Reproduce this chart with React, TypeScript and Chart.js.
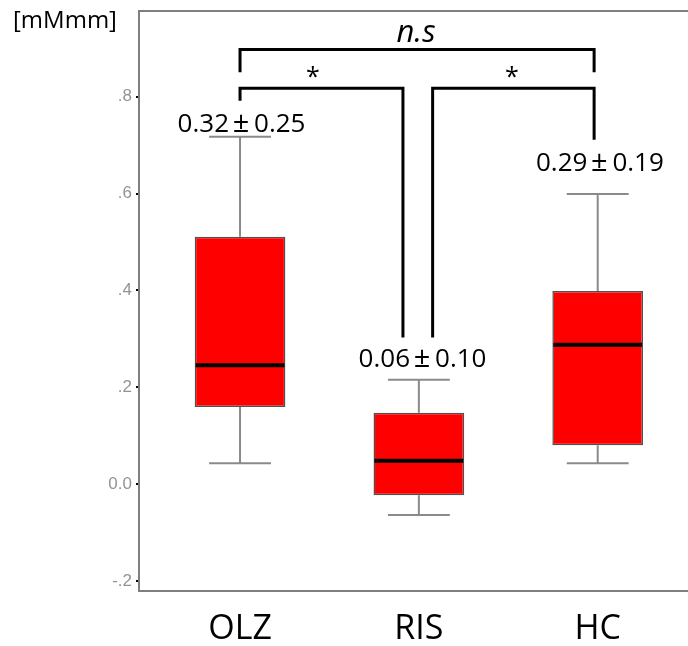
import { useEffect, useRef } from 'react';
import { Chart, registerables } from 'chart.js';

Chart.register(...registerables);

// ---- data ----
const categories = ['OLZ', 'RIS', 'HC'];
const categoryX = [1, 2, 3];
const whiskerLow = [0.044, -0.063, 0.044];
const q1 = [0.16, -0.022, 0.081];
const median = [0.246, 0.049, 0.288];
const q3 = [0.511, 0.148, 0.399];
const whiskerHigh = [0.717, 0.216, 0.599];
const means = ['0.32', '0.06', '0.29'];
const sds = ['0.25', '0.10', '0.19'];
const yTickValues = [0.8, 0.6, 0.4, 0.2, 0, -0.2];
const yTickLabels = ['.8', '.6', '.4', '.2', '0.0', '-.2'];
const unitLabel = '[mMmm]';

// annotation anchors in data units
const statX = [1.0, 2.012, 3.004];
const statY = [0.746, 0.261, 0.664];
const brackets = [
  { x1: 1.0, x2: 2.98, yTop: 0.897, yEnd1: 0.85, yEnd2: 0.85, label: 'n.s', labelX: 1.984, labelY: 0.929, italic: true },
  { x1: 1.0, x2: 1.911, yTop: 0.817, yEnd1: 0.791, yEnd2: 0.303, label: '*', labelX: 1.408, labelY: 0.85, italic: false },
  { x1: 2.077, x2: 2.98, yTop: 0.817, yEnd1: 0.303, yEnd2: 0.711, label: '*', labelX: 2.52, labelY: 0.85, italic: false },
];

const FONT = "'Open Sans', 'DejaVu Sans', sans-serif";
const CAP_HALF = 0.173;

function inkCenteredText(ctx: CanvasRenderingContext2D, text: string, x: number, y: number, align: CanvasTextAlign, ref?: string) {
  ctx.textAlign = align;
  ctx.textBaseline = 'alphabetic';
  const m = ctx.measureText(ref ?? text);
  const off = (m.actualBoundingBoxAscent - m.actualBoundingBoxDescent) / 2;
  ctx.fillText(text, x, y + off);
}

const boxPlugin = {
  id: 'boxParts',
  beforeDatasetsDraw(chart: any) {
    const { ctx, scales } = chart;
    const xs = scales.x;
    const ys = scales.y;
    ctx.save();
    ctx.strokeStyle = '#8a8a8a';
    ctx.lineWidth = 2;
    categoryX.forEach((cx, i) => {
      const px = xs.getPixelForValue(cx);
      const l = xs.getPixelForValue(cx - CAP_HALF);
      const r = xs.getPixelForValue(cx + CAP_HALF);
      const yLo = ys.getPixelForValue(whiskerLow[i]);
      const yHi = ys.getPixelForValue(whiskerHigh[i]);
      ctx.beginPath();
      ctx.moveTo(px, yLo);
      ctx.lineTo(px, ys.getPixelForValue(q1[i]));
      ctx.moveTo(px, ys.getPixelForValue(q3[i]));
      ctx.lineTo(px, yHi);
      ctx.moveTo(l, yLo);
      ctx.lineTo(r, yLo);
      ctx.moveTo(l, yHi);
      ctx.lineTo(r, yHi);
      ctx.stroke();
    });
    ctx.restore();
  },
  afterDatasetsDraw(chart: any) {
    const { ctx, scales } = chart;
    const ys = scales.y;
    const meta = chart.getDatasetMeta(0);
    ctx.save();
    ctx.strokeStyle = '#000';
    ctx.lineWidth = 4;
    meta.data.forEach((el: any, i: number) => {
      const py = ys.getPixelForValue(median[i]);
      ctx.beginPath();
      ctx.moveTo(el.x - el.width / 2 + 1, py);
      ctx.lineTo(el.x + el.width / 2 - 1, py);
      ctx.stroke();
    });
    ctx.restore();
  },
  afterDraw(chart: any) {
    const { ctx, scales, chartArea } = chart;
    const xs = scales.x;
    const ys = scales.y;
    ctx.save();
    // top frame line
    ctx.strokeStyle = '#7f7f7f';
    ctx.lineWidth = 2;
    ctx.beginPath();
    ctx.moveTo(chartArea.left, chartArea.top);
    ctx.lineTo(chartArea.right, chartArea.top);
    ctx.stroke();

    // significance brackets
    ctx.strokeStyle = '#000';
    ctx.lineWidth = 3;
    ctx.lineJoin = 'miter';
    ctx.lineCap = 'butt';
    brackets.forEach((b) => {
      const x1 = xs.getPixelForValue(b.x1);
      const x2 = xs.getPixelForValue(b.x2);
      const yt = ys.getPixelForValue(b.yTop);
      ctx.beginPath();
      ctx.moveTo(x1, ys.getPixelForValue(b.yEnd1));
      ctx.lineTo(x1, yt);
      ctx.lineTo(x2, yt);
      ctx.lineTo(x2, ys.getPixelForValue(b.yEnd2));
      ctx.stroke();
      ctx.fillStyle = '#000';
      ctx.font = b.italic ? `italic 31px ${FONT}` : `25px ${FONT}`;
      inkCenteredText(ctx, b.label, xs.getPixelForValue(b.labelX), ys.getPixelForValue(b.labelY), 'center');
    });

    // mean ± sd labels
    ctx.fillStyle = '#000';
    categoryX.forEach((_, i) => {
      const cx = xs.getPixelForValue(statX[i]);
      const cy = ys.getPixelForValue(statY[i]);
      ctx.font = `26px ${FONT}`;
      inkCenteredText(ctx, means[i], cx - 11, cy, 'right', '0');
      inkCenteredText(ctx, sds[i], cx + 14, cy, 'left', '0');
      ctx.font = `29px ${FONT}`;
      inkCenteredText(ctx, '±', cx + 1, cy, 'center');
    });

    // unit label
    ctx.font = `24px ${FONT}`;
    inkCenteredText(ctx, unitLabel, 13, chartArea.top + 10.5, 'left');
    ctx.restore();
  },
};

export default function App() {
  const canvasRef = useRef<HTMLCanvasElement | null>(null);

  useEffect(() => {
    const canvas = canvasRef.current;
    if (!canvas) return;
    const chart = new Chart(canvas, {
      type: 'bar',
      data: {
        datasets: [
          {
            data: categoryX.map((x, i) => ({ x, y: [q1[i], q3[i]] })) as any,
            backgroundColor: '#ff0000',
            borderColor: '#505050',
            borderWidth: 1.5,
            borderSkipped: false,
            barPercentage: 1,
            categoryPercentage: 0.507,
          },
        ],
      },
      options: {
        responsive: true,
        maintainAspectRatio: false,
        animation: false,
        layout: { padding: { top: 11, left: 0, right: 0, bottom: 0 } },
        plugins: { legend: { display: false }, tooltip: { enabled: false } },
        scales: {
          x: {
            type: 'linear',
            offset: false,
            min: 0.435,
            max: 3.505,
            afterBuildTicks: (s: any) => {
              s.ticks = categoryX.map((v) => ({ value: v }));
            },
            afterFit: (s: any) => {
              s.height = 55;
              s.paddingLeft = 0;
              s.paddingRight = 0;
            },
            ticks: {
              callback: (v: any) => {
                const k = categoryX.indexOf(Number(v));
                return k >= 0 ? categories[k] : '';
              },
              font: { family: FONT, size: 34 },
              color: '#000',
              padding: 18,
              autoSkip: false,
              maxRotation: 0,
            },
            grid: { display: false, drawTicks: false, offset: false },
            border: { display: true, color: '#7f7f7f', width: 2 },
          },
          y: {
            type: 'linear',
            min: -0.2196,
            max: 0.9763,
            afterBuildTicks: (s: any) => {
              s.ticks = yTickValues.map((v) => ({ value: v }));
            },
            afterFit: (s: any) => {
              s.width = 139;
              s.paddingTop = 0;
              s.paddingBottom = 0;
            },
            ticks: {
              callback: (v: any) => {
                const k = yTickValues.indexOf(Number(v));
                return k >= 0 ? yTickLabels[k] : '';
              },
              font: { family: "'Liberation Sans Narrow', 'Arial Narrow', 'Liberation Sans', sans-serif", size: 17 },
              color: '#939393',
              padding: 4,
              autoSkip: false,
            },
            grid: { drawOnChartArea: false, drawTicks: true, tickLength: 3, tickColor: '#000', lineWidth: 2 },
            border: { display: true, color: '#7f7f7f', width: 2 },
          },
        },
      },
      plugins: [boxPlugin],
    } as any);
    return () => chart.destroy();
  }, []);

  return (
    <div style={{ position: 'absolute', left: 0, top: 0, width: 688, height: 646, background: '#fff' }}>
      <canvas ref={canvasRef} style={{ display: 'block' }} />
    </div>
  );
}
